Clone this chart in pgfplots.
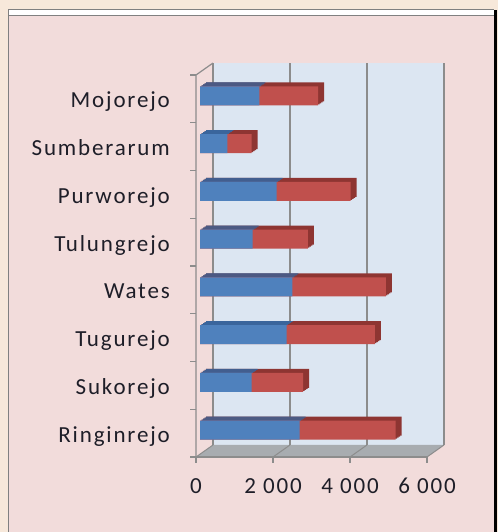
\documentclass[border=0pt]{standalone}
\usepackage{pgfplots}
\usepackage{pgfplotstable}
\pgfplotsset{compat=1.18}
\usepackage{fontspec}
\setmainfont{Carlito}[LetterSpace=8]
\definecolor{outerbg}{HTML}{F7E8DA}
\definecolor{chartbg}{HTML}{F2DCDB}
\definecolor{wall}{HTML}{DCE6F2}
\definecolor{floorc}{HTML}{A8ACB0}
\definecolor{gridc}{HTML}{8C8C8C}
\definecolor{sblue}{HTML}{4F81BD}
\definecolor{sred}{HTML}{C0504D}
\definecolor{dblue}{HTML}{3A659C}
\definecolor{dred}{HTML}{8E3532}
\definecolor{txt}{HTML}{1E1E28}

% y: 0 Ringinrejo ... 7 Mojorejo
\pgfplotstableread{
cat blue red
0 2590 2490
1 1340 1340
2 2250 2290
3 2400 2430
4 1370 1430
5 1990 1920
6 710 630
7 1540 1530
}\data

\begin{document}
\begin{tikzpicture}
\useasboundingbox (0,0) rectangle (498bp,532bp);
\fill[outerbg] (0,0) rectangle (498bp,532bp);
\fill[chartbg] (8bp,0) rectangle (494bp,522bp);
\fill[white] (8bp,516bp) rectangle (494bp,522bp);
\draw[gray, line width=1bp] (8bp,0) -- (8bp,522bp) -- (494bp,522bp);
\draw[gray, line width=1bp] (8bp,516bp) -- (494bp,516bp);
\fill[black] (494bp,0) rectangle (497bp,522bp);

\begin{axis}[
  at={(196bp,75bp)}, anchor=south west,
  scale only axis, width=231bp, height=382bp,
  xmin=0, xmax=6000, ymin=-0.5, ymax=7.5,
  clip=false,
  axis line style={draw=none},
  major tick length=0pt,
  xtick={0,2000,4000,6000},
  xticklabels={0,2 000,4 000,6 000},
  ytick={0,1,2,3,4,5,6,7},
  yticklabels={Ringinrejo,Sukorejo,Tugurejo,Wates,Tulungrejo,Purworejo,Sumberarum,Mojorejo},
  tick label style={font=\fontsize{23bp}{26bp}\selectfont, text=txt},
  xticklabel style={anchor=base, inner sep=0pt, yshift=-36.5bp},
  yticklabel style={anchor=base east, inner sep=0pt, xshift=-26bp, yshift=-9bp},
]
% back wall
\fill[wall] ([shift={(17bp,12bp)}]axis cs:0,-0.5) rectangle ([shift={(17bp,12bp)}]axis cs:6000,7.5);
% floor
\fill[floorc] (axis cs:0,-0.5) -- (axis cs:6000,-0.5) -- ([shift={(17bp,12bp)}]axis cs:6000,-0.5) -- ([shift={(17bp,12bp)}]axis cs:0,-0.5) -- cycle;
\pgfplotsinvokeforeach{0,2000,4000,6000}{
  \draw[gridc, line width=1.4bp] ([shift={(17bp,12bp)}]axis cs:#1,-0.5) -- ([shift={(17bp,12bp)}]axis cs:#1,7.5);
  \draw[gridc, line width=1bp] (axis cs:#1,-0.5) -- ([shift={(17bp,12bp)}]axis cs:#1,-0.5);
  \draw[gridc, line width=1.2bp] (axis cs:#1,-0.5) -- ([shift={(0bp,-6bp)}]axis cs:#1,-0.5);
}
\draw[gridc, line width=1.2bp] (axis cs:0,-0.5) -- (axis cs:6000,-0.5);
\draw[gridc, line width=1.2bp] (axis cs:0,-0.5) -- (axis cs:0,7.5) -- ([shift={(17bp,12bp)}]axis cs:0,7.5);
\pgfplotsinvokeforeach{-0.5,0.5,1.5,2.5,3.5,4.5,5.5,6.5,7.5}{
  \draw[gridc, line width=1.2bp] (axis cs:0,#1) -- ([shift={(-6bp,0bp)}]axis cs:0,#1);
}
% 3D depth of bars (back faces, from far to near)
\addplot[xbar, bar shift=0pt, bar width=19bp, fill=dred, draw=none, xshift=10bp, yshift=7bp] table[y=cat, x expr=\thisrow{blue}+\thisrow{red}] {\data};
\addplot[xbar, bar shift=0pt, bar width=19bp, fill=dblue, draw=none, xshift=10bp, yshift=7bp] table[y=cat, x=blue] {\data};
\addplot[xbar, bar shift=0pt, bar width=19bp, fill=dred, draw=none, xshift=8.5bp, yshift=6bp] table[y=cat, x expr=\thisrow{blue}+\thisrow{red}] {\data};
\addplot[xbar, bar shift=0pt, bar width=19bp, fill=dblue, draw=none, xshift=8.5bp, yshift=6bp] table[y=cat, x=blue] {\data};
\addplot[xbar, bar shift=0pt, bar width=19bp, fill=dred, draw=none, xshift=7bp, yshift=5bp] table[y=cat, x expr=\thisrow{blue}+\thisrow{red}] {\data};
\addplot[xbar, bar shift=0pt, bar width=19bp, fill=dblue, draw=none, xshift=7bp, yshift=5bp] table[y=cat, x=blue] {\data};
\addplot[xbar, bar shift=0pt, bar width=19bp, fill=dred, draw=none, xshift=5.5bp, yshift=4bp] table[y=cat, x expr=\thisrow{blue}+\thisrow{red}] {\data};
\addplot[xbar, bar shift=0pt, bar width=19bp, fill=dblue, draw=none, xshift=5.5bp, yshift=4bp] table[y=cat, x=blue] {\data};
% front faces
\addplot[xbar, bar shift=0pt, bar width=19bp, fill=sred, draw=none, xshift=4bp, yshift=3bp] table[y=cat, x expr=\thisrow{blue}+\thisrow{red}] {\data};
\addplot[xbar, bar shift=0pt, bar width=19bp, fill=sblue, draw=none, xshift=4bp, yshift=3bp] table[y=cat, x=blue] {\data};
\end{axis}
\end{tikzpicture}
\end{document}
